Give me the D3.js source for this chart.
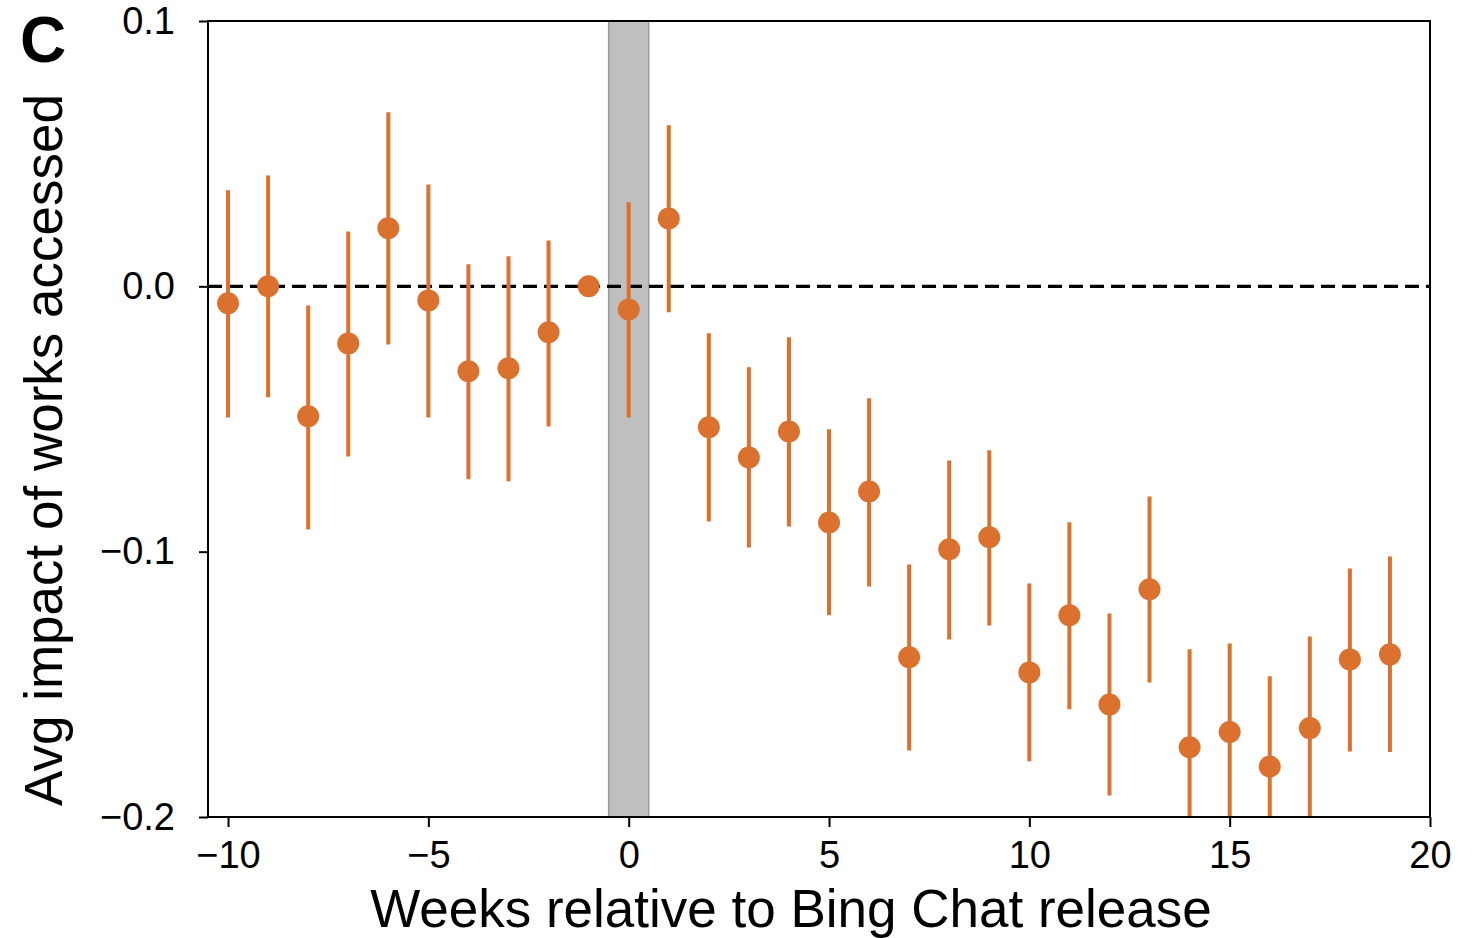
<!DOCTYPE html>
<html>
<head>
<meta charset="utf-8">
<script src="https://d3js.org/d3.v7.min.js"></script>
<style>
  body { margin: 0; background: #fff; }
  text { font-family: "Liberation Sans", Arial, sans-serif; }
</style>
</head>
<body>
<div id="chart"></div>
<script>
// weeks relative to release
var weeks = [-10, -9, -8, -7, -6, -5, -4, -3, -2, -1, 0, 1, 2, 3, 4, 5, 6, 7, 8, 9,
             10, 11, 12, 13, 14, 15, 16, 17, 18, 19];
var estimate = [-0.0064, 0.0, -0.049, -0.0215, 0.0219, -0.0053, -0.032, -0.0309, -0.0173, 0.0,
                -0.0087, 0.0256, -0.0531, -0.0645, -0.0547, -0.089, -0.0773, -0.1398, -0.0991, -0.0946,
                -0.1455, -0.124, -0.1576, -0.1142, -0.1737, -0.168, -0.181, -0.1665, -0.1406, -0.1387];
var upper = [0.0362, 0.0418, -0.0072, 0.0207, 0.0656, 0.0384, 0.0083, 0.0113, 0.0173, 0.0,
             0.0317, 0.0607, -0.0177, -0.0305, -0.0192, -0.0539, -0.0422, -0.1048, -0.0656, -0.0618,
             -0.112, -0.0889, -0.1233, -0.0792, -0.1368, -0.1346, -0.147, -0.132, -0.1063, -0.1018];
var lower = [-0.0494, -0.0418, -0.0916, -0.0641, -0.0219, -0.0494, -0.0727, -0.0735, -0.0528, 0.0,
             -0.0494, -0.0098, -0.0886, -0.0984, -0.0905, -0.124, -0.1131, -0.1749, -0.1331, -0.1278,
             -0.179, -0.1594, -0.1919, -0.1493, -0.2106, -0.2014, -0.215, -0.201, -0.1753, -0.1755];
var xTicks = [-10, -5, 0, 5, 10, 15, 20];
var yTicks = [0.1, 0.0, -0.1, -0.2];

var width = 1478,
    height = 938;
var margin = {top: 21, right: 48, bottom: 121, left: 208};
var orange = "#db712f";

var svg = d3.select("#chart").append("svg")
    .attr("width", width)
    .attr("height", height);

var x = d3.scaleLinear().domain([-10.5, 20]).range([margin.left, width - margin.right]);
var y = d3.scaleLinear().domain([-0.2, 0.1]).range([height - margin.bottom, margin.top]);

var fmt = function(d) {
    var s = d3.format(".1f")(Math.abs(d));
    return (d < 0 ? "\u2212" : "") + s;
};

svg.append("clipPath").attr("id", "clip")
  .append("rect")
    .attr("x", margin.left)
    .attr("y", margin.top)
    .attr("width", width - margin.left - margin.right)
    .attr("height", height - margin.top - margin.bottom);

// release week band
svg.append("rect")
    .attr("x", x(-0.5))
    .attr("y", margin.top)
    .attr("width", x(0.5) - x(-0.5))
    .attr("height", height - margin.top - margin.bottom)
    .attr("fill", "#bfbfbf")
    .attr("stroke", "#9a9a9a")
    .attr("stroke-width", 1.5);

// zero line
svg.append("line")
    .attr("x1", margin.left)
    .attr("x2", width - margin.right)
    .attr("y1", y(0))
    .attr("y2", y(0))
    .attr("stroke", "#000")
    .attr("stroke-width", 3.3)
    .attr("stroke-dasharray", "14,7");

var data = weeks.map(function(w, i) {
    return {week: w, est: estimate[i], lo: lower[i], hi: upper[i]};
});

var g = svg.append("g").attr("clip-path", "url(#clip)");

g.selectAll("line.err")
    .data(data.filter(function(d) { return d.hi !== d.lo; }))
  .enter().append("line")
    .attr("class", "err")
    .attr("x1", function(d) { return x(d.week); })
    .attr("x2", function(d) { return x(d.week); })
    .attr("y1", function(d) { return y(d.lo); })
    .attr("y2", function(d) { return y(d.hi); })
    .attr("stroke", orange)
    .attr("stroke-width", 4);

svg.selectAll("circle.pt")
    .data(data)
  .enter().append("circle")
    .attr("class", "pt")
    .attr("cx", function(d) { return x(d.week); })
    .attr("cy", function(d) { return y(d.est); })
    .attr("r", 11)
    .attr("fill", orange);

// frame
svg.append("rect")
    .attr("x", margin.left)
    .attr("y", margin.top)
    .attr("width", width - margin.left - margin.right)
    .attr("height", height - margin.top - margin.bottom)
    .attr("fill", "none")
    .attr("stroke", "#000")
    .attr("stroke-width", 2);

var xAxis = svg.append("g")
    .attr("transform", "translate(0," + (height - margin.bottom) + ")")
    .call(d3.axisBottom(x).tickValues(xTicks).tickSize(10).tickPadding(14)
        .tickFormat(function(d) { return (d < 0 ? "\u2212" : "") + Math.abs(d); }));
xAxis.select(".domain").remove();
xAxis.selectAll("line").attr("stroke-width", 2);
xAxis.selectAll("text").attr("font-size", 38).attr("fill", "#000")
    .attr("font-family", "Liberation Sans, Arial, sans-serif");

var yAxis = svg.append("g")
    .attr("transform", "translate(" + margin.left + ",0)")
    .call(d3.axisLeft(y).tickValues(yTicks).tickSize(9).tickPadding(24).tickFormat(fmt));
yAxis.select(".domain").remove();
yAxis.selectAll("line").attr("stroke-width", 2);
yAxis.selectAll("text").attr("font-size", 38).attr("fill", "#000")
    .attr("font-family", "Liberation Sans, Arial, sans-serif");

svg.append("text")
    .attr("x", 791)
    .attr("y", 927)
    .attr("text-anchor", "middle")
    .attr("font-size", 53)
    .text("Weeks relative to Bing Chat release");

svg.append("text")
    .attr("transform", "translate(62," + 450 + ") rotate(-90)")
    .attr("text-anchor", "middle")
    .attr("font-size", 53)
    .text("Avg impact of works accessed");

svg.append("text")
    .attr("x", 20)
    .attr("y", 62)
    .attr("font-size", 64)
    .attr("font-weight", "bold")
    .text("C");
</script>
</body>
</html>
